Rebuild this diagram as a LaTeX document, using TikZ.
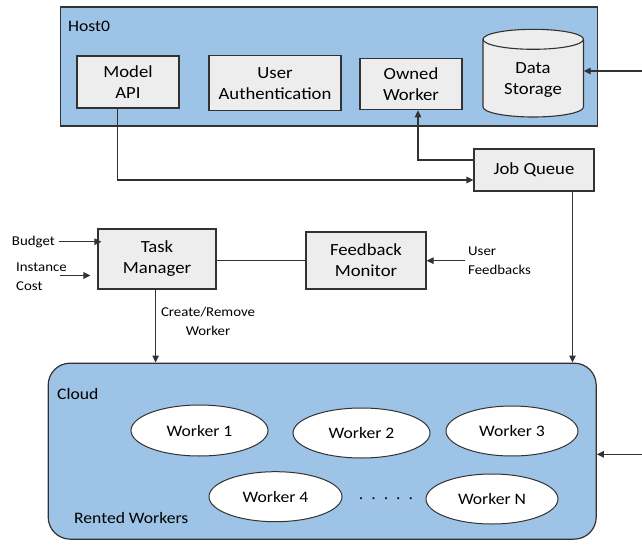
\documentclass[tikz,border=0pt]{standalone}
\usepackage{fontspec}
\setmainfont{Carlito}[FakeStretch=1.1]
\usepackage{tikz}
\usetikzlibrary{shapes.geometric,arrows.meta}

\definecolor{hostblue}{RGB}{157,195,230}
\definecolor{boxgray}{RGB}{237,237,237}
\definecolor{edgegray}{RGB}{50,50,50}

\begin{document}
\begin{tikzpicture}[x=1pt,y=1pt,>={Triangle[length=7pt,width=6.5pt]},
  area/.style={draw=edgegray,line width=1.2pt,fill=hostblue,inner sep=0pt},
  block/.style={draw=edgegray,line width=1.1pt,fill=boxgray,inner sep=0pt,align=center,
    font=\fontsize{17}{21}\selectfont},
  worker/.style={ellipse,draw=edgegray,line width=1pt,fill=white,inner sep=0pt,
    font=\fontsize{16}{20}\selectfont},
  lbl/.style={inner sep=0pt,font=\fontsize{13.5}{19}\selectfont},
  link/.style={line width=1.1pt,draw=edgegray}]
  \useasboundingbox (0,0) rectangle (642,544);

  % host machine
  \node[area,minimum width=537,minimum height=119] (host) at (329.2,477.4) {};
  \node[anchor=west,inner sep=0pt,font=\fontsize{16}{20}\selectfont] (hostlbl) at (68,517.3) {Host0};
  \node[block,minimum width=102,minimum height=52] (model) at (128,462) {Model\\API};
  \node[block,minimum width=132,minimum height=55] (auth) at (275,460.7) {User\\Authentication};
  \node[block,minimum width=102,minimum height=51] (owned) at (411,459.7) {Owned\\Worker};
  \draw[line width=1.1pt,draw=edgegray,fill=boxgray] (483,504.7) -- (483,437) arc (180:360:50.25 and 10)
    -- (583.5,504.7) arc (0:180:50.25 and 10) -- cycle;
  \draw[line width=1.1pt,draw=edgegray] (483,504.7) arc (180:360:50.25 and 10);
  \node[minimum width=100.5,minimum height=88,inner sep=0pt] (storage) at (533.25,470.85) {};
  \node[align=center,inner sep=0pt,font=\fontsize{17}{21}\selectfont] (storagelbl) at (533,464) {Data\\Storage};
  \coordinate (dsin) at (642,473);

  % queue and manager
  \node[block,minimum width=120,minimum height=42] (jobq) at (534,374) {Job Queue};
  \node[block,minimum width=118,minimum height=60] (tm) at (157,285) {Task\\Manager};
  \node[block,minimum width=120,minimum height=57] (fm) at (366,283.5) {Feedback\\Monitor};
  \node[lbl,anchor=east] (budget) at (55,302.3) {Budget};
  \node[lbl,anchor=west,align=left] (icost) at (16,267) {Instance\\Cost};
  \node[lbl,anchor=west,align=left] (ufb) at (468,283.3) {User\\Feedbacks};
  \node[lbl,align=center] (crw) at (208,222.6) {Create/Remove\\Worker};

  % cloud
  \node[area,rounded corners=22pt,minimum width=548,minimum height=176] (cloud) at (322.2,92.85) {};
  \node[anchor=west,inner sep=0pt,font=\fontsize{16}{20}\selectfont] (cloudlbl) at (57,150) {Cloud};
  \node[anchor=west,inner sep=0pt,font=\fontsize{16}{20}\selectfont] (rented) at (74,26) {Rented Workers};
  \node[worker,minimum width=137,minimum height=51] (w1) at (199.5,113.5) {Worker 1};
  \node[worker,minimum width=137,minimum height=50] (w2) at (361.5,111) {Worker 2};
  \node[worker,minimum width=132,minimum height=50] (w3) at (512,113) {Worker 3};
  \node[worker,minimum width=133,minimum height=50] (w4) at (275.5,47.3) {Worker 4};
  \node[worker,minimum width=132,minimum height=50] (wn) at (492,45) {Worker N};
  \node[inner sep=0pt,font=\fontsize{16}{20}\selectfont] (dots) at (386,45) {.\ \ .\ \ .\ \ .\ \ .};
  \coordinate (cin) at (642,89.7);

  % connectors
  \draw[link,->] (dsin) -- (dsin -| storage.east);
  \draw[link,->] ([xshift=-10.5]model.south) |- ([yshift=-10]jobq.west);
  \draw[link,->] ([yshift=10]jobq.west) -| ([xshift=7]owned.south);
  \draw[link,->] ([xshift=38.5]jobq.south) -- ([xshift=38.5]jobq.south |- cloud.north);
  \draw[link,->] ([xshift=4]budget.east) -- ([xshift=4]budget.east -| tm.west);
  \draw[link,->] ([xshift=-7,yshift=1.5]icost.east) -- ([xshift=-7,yshift=1.5]icost.east -| tm.west);
  \draw[link] (tm.east |- fm.west) -- (fm.west);
  \draw[link,->] ([xshift=-3]ufb.west) -- (ufb.west -| fm.east);
  \draw[link,->] ([xshift=-1.4]tm.south) -- ([xshift=-1.4]tm.south |- cloud.north);
  \draw[link,->] (cin) -- (cin -| cloud.east);
\end{tikzpicture}
\end{document}
